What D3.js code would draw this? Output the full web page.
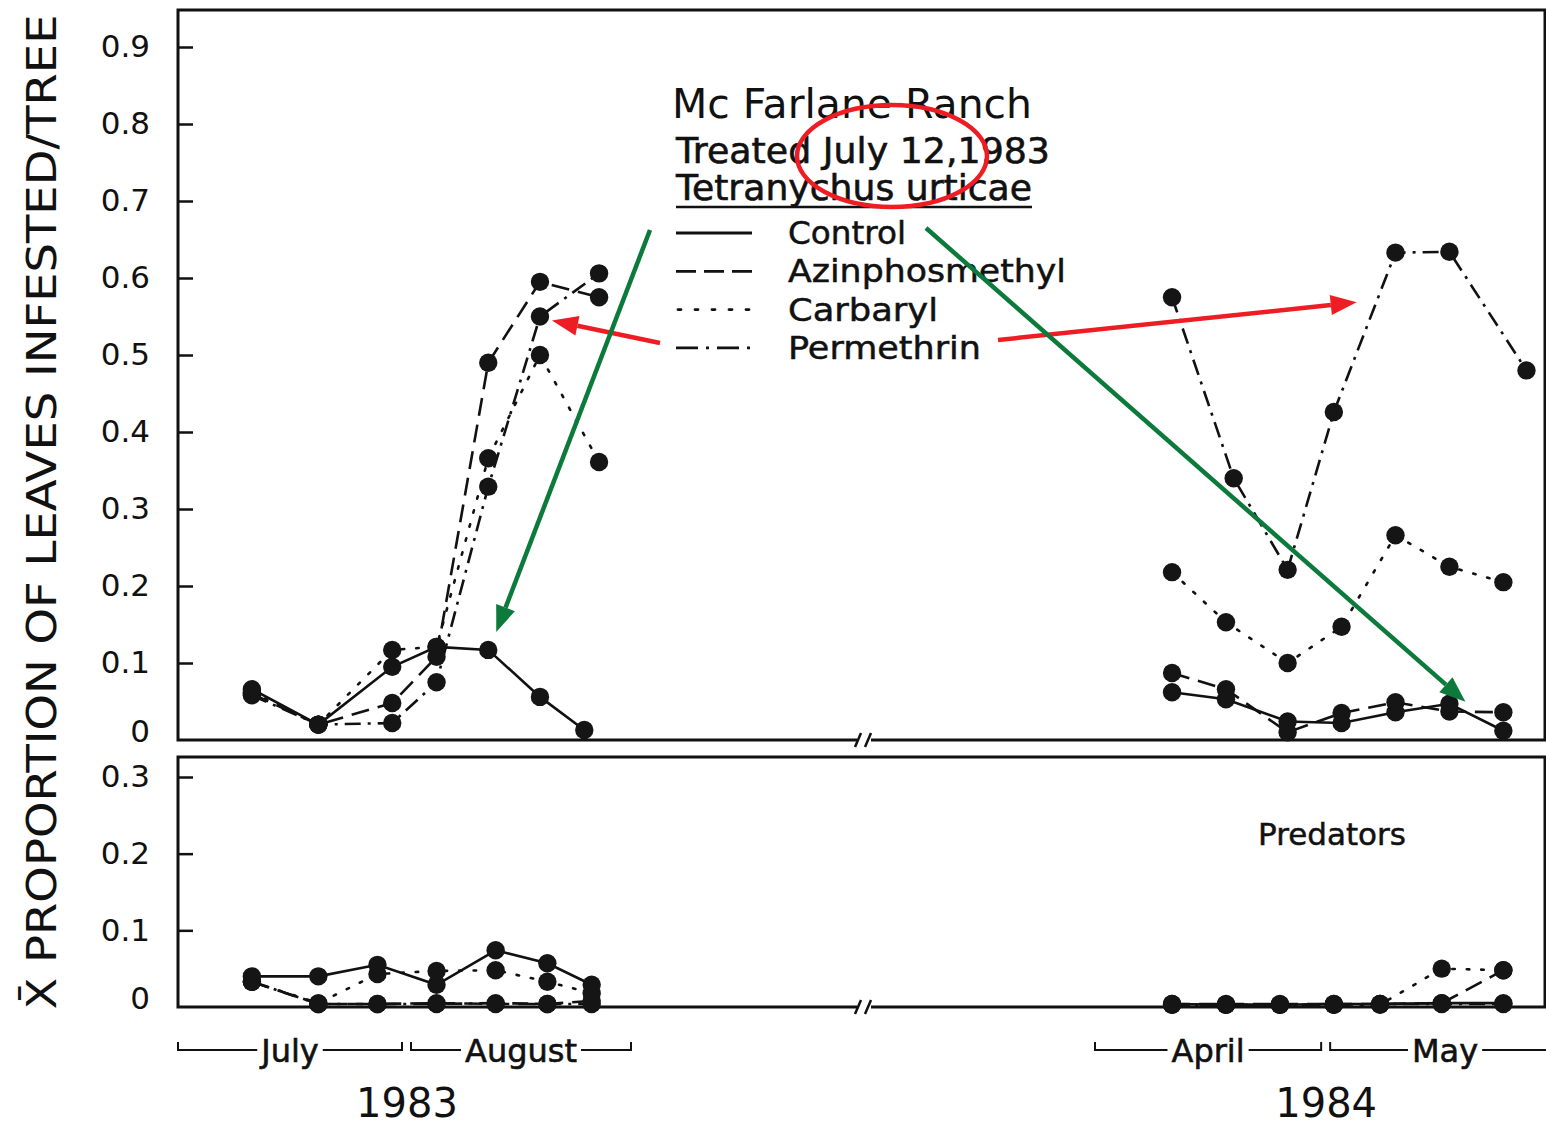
<!DOCTYPE html>
<html><head><meta charset="utf-8">
<style>
    body { margin: 0; background: #fff; font-family: "DejaVu Sans", sans-serif; }
    svg { display: block; }
</style>
</head>
<body>
<svg id="chart" width="1546" height="1130"></svg>
<script src="https://cdnjs.cloudflare.com/ajax/libs/d3/7.8.5/d3.min.js"></script>
<script>
    const parse = d3.timeParse("%Y-%m-%d");

    // sampling dates
    const miteDates83        = ["1983-07-11","1983-07-20","1983-07-30","1983-08-05","1983-08-12","1983-08-19","1983-08-27"];
    const miteControlDates83 = ["1983-07-11","1983-07-20","1983-07-30","1983-08-05","1983-08-12","1983-08-19","1983-08-25"];
    const miteDates84        = ["1984-04-11","1984-04-18","1984-04-26","1984-05-03","1984-05-10","1984-05-17","1984-05-24"];
    const mitePermDates84    = ["1984-04-11","1984-04-19","1984-04-26","1984-05-02","1984-05-10","1984-05-17","1984-05-27"];
    const predDates83        = ["1983-07-11","1983-07-20","1983-07-28","1983-08-05","1983-08-13","1983-08-20","1983-08-26"];
    const predDates84        = ["1984-04-11","1984-04-18","1984-04-25","1984-05-02","1984-05-08","1984-05-16","1984-05-24"];

    // Tetranychus urticae, proportion of leaves infested
    const miteControl83 = [0.066, 0.02, 0.095, 0.121, 0.117, 0.056, 0.013];
    const miteAzin83    = [0.060, 0.02, 0.048, 0.108, 0.490, 0.595, 0.575];
    const miteCarb83    = [0.062, 0.02, 0.117, 0.121, 0.366, 0.500, 0.361];
    const mitePerm83    = [0.058, 0.02, 0.022, 0.075, 0.329, 0.550, 0.606];
    const miteControl84 = [0.062, 0.053, 0.024, 0.022, 0.036, 0.047, 0.012];
    const miteAzin84    = [0.087, 0.066, 0.010, 0.035, 0.049, 0.037, 0.036];
    const miteCarb84    = [0.218, 0.153, 0.100, 0.147, 0.266, 0.225, 0.205];
    const mitePerm84    = [0.575, 0.340, 0.221, 0.426, 0.633, 0.634, 0.480];

    // predators
    const predControl83 = [0.040, 0.040, 0.055, 0.029, 0.074, 0.057, 0.029];
    const predAzin83    = [0.033, 0.004, 0.004, 0.005, 0.004, 0.004, 0.008];
    const predCarb83    = [0.033, 0.005, 0.043, 0.047, 0.048, 0.033, 0.018];
    const predPerm83    = [0.033, 0.004, 0.004, 0.004, 0.005, 0.004, 0.004];
    const predControl84 = [0.004, 0.003, 0.003, 0.004, 0.004, 0.005, 0.005];
    const predAzin84    = [0.004, 0.004, 0.004, 0.004, 0.004, 0.005, 0.048];
    const predCarb84    = [0.003, 0.003, 0.003, 0.003, 0.003, 0.050, 0.048];
    const predPerm84    = [0.003, 0.003, 0.003, 0.003, 0.004, 0.004, 0.004];

    const treatments = ["Control", "Azinphosmethyl", "Carbaryl", "Permethrin"];
    const topTicks = [0, 0.1, 0.2, 0.3, 0.4, 0.5, 0.6, 0.7, 0.8, 0.9];
    const bottomTicks = [0, 0.1, 0.2, 0.3];
    const months = [
        {name: "July",   start: "1983-07-01", end: "1983-08-01"},
        {name: "August", start: "1983-08-01", end: "1983-09-01"},
        {name: "April",  start: "1984-04-01", end: "1984-05-01"},
        {name: "May",    start: "1984-05-01", end: "1984-06-01"}
    ];
    const years = [{label: "1983", mid: "1983-08-01"}, {label: "1984", mid: "1984-05-01"}];

    const dashes = {Control: null, Azinphosmethyl: "18,9", Carbaryl: "2.5,12", Permethrin: "16,7,3,7"};

    let svg = d3.select("#chart");
    let left = 178, right = 1545;
    let topPanel = {top: 10, bottom: 740};
    let botPanel = {top: 757, bottom: 1007};
    let breakX = 863;

    let x = d3.scaleTime()
        .domain([parse("1983-07-01"), parse("1983-09-01"), parse("1984-04-01"), parse("1984-06-01")])
        .range([left, 636, 1095, 1565]);

    let yTop = d3.scaleLinear().domain([0, 0.9]).range([topPanel.bottom, 47]);
    let yBot = d3.scaleLinear().domain([0, 0.3]).range([botPanel.bottom, 777]);

    function fmt(d) { return d === 0 ? "0" : d.toFixed(1); }

    // frames
    function drawFrame(p, y, ticks) {
        let g = svg.append("g");
        g.append("path")
            .attr("d", `M${breakX - 6},${p.bottom} L${left},${p.bottom} L${left},${p.top} L${right},${p.top} L${right},${p.bottom} L${breakX + 8},${p.bottom}`)
            .attr("fill", "none").attr("stroke", "#111").attr("stroke-width", 3);
        [breakX - 5, breakX + 5].forEach(bx => {
            g.append("line")
                .attr("x1", bx - 3).attr("y1", p.bottom + 7)
                .attr("x2", bx + 3).attr("y2", p.bottom - 7)
                .attr("stroke", "#111").attr("stroke-width", 2.5);
        });
        // inward ticks
        svg.append("g")
            .attr("transform", `translate(${left},0)`)
            .call(d3.axisRight(y).tickValues(ticks.filter(t => t > 0)).tickSize(15).tickFormat(""))
            .call(a => a.select(".domain").remove())
            .call(a => a.selectAll("line").attr("stroke", "#111").attr("stroke-width", 2.5));
        // labels
        svg.append("g")
            .attr("transform", `translate(${left},0)`)
            .call(d3.axisLeft(y).tickValues(ticks).tickSize(0).tickPadding(28).tickFormat(fmt))
            .call(a => a.select(".domain").remove())
            .call(a => a.selectAll("text")
                .attr("font-family", "DejaVu Sans, sans-serif")
                .attr("font-size", 31)
                .attr("fill", "#111")
                .attr("dy", d => d === 0 ? "0.05em" : "0.32em"));
    }
    drawFrame(topPanel, yTop, topTicks);
    drawFrame(botPanel, yBot, bottomTicks);

    // series
    function drawSeries(y, dates, values, name) {
        let data = dates.map((d, i) => ({date: parse(d), value: values[i]}));
        let line = d3.line().x(d => x(d.date)).y(d => y(d.value));
        svg.append("path")
            .datum(data)
            .attr("d", line)
            .attr("fill", "none")
            .attr("stroke", "#111")
            .attr("stroke-width", 2.6)
            .attr("stroke-dasharray", dashes[name])
            .attr("stroke-linecap", name === "Carbaryl" ? "round" : "butt");
        svg.append("g").selectAll("circle")
            .data(data)
            .enter()
            .append("circle")
            .attr("cx", d => x(d.date))
            .attr("cy", d => y(d.value))
            .attr("r", 9.2)
            .attr("fill", "#151515");
    }

    drawSeries(yTop, miteDates83, mitePerm83, "Permethrin");
    drawSeries(yTop, miteDates83, miteCarb83, "Carbaryl");
    drawSeries(yTop, miteDates83, miteAzin83, "Azinphosmethyl");
    drawSeries(yTop, miteControlDates83, miteControl83, "Control");
    drawSeries(yTop, mitePermDates84, mitePerm84, "Permethrin");
    drawSeries(yTop, miteDates84, miteCarb84, "Carbaryl");
    drawSeries(yTop, miteDates84, miteAzin84, "Azinphosmethyl");
    drawSeries(yTop, miteDates84, miteControl84, "Control");

    drawSeries(yBot, predDates83, predPerm83, "Permethrin");
    drawSeries(yBot, predDates83, predCarb83, "Carbaryl");
    drawSeries(yBot, predDates83, predAzin83, "Azinphosmethyl");
    drawSeries(yBot, predDates83, predControl83, "Control");
    drawSeries(yBot, predDates84, predPerm84, "Permethrin");
    drawSeries(yBot, predDates84, predCarb84, "Carbaryl");
    drawSeries(yBot, predDates84, predAzin84, "Azinphosmethyl");
    drawSeries(yBot, predDates84, predControl84, "Control");

    // y title
    svg.append("text")
        .attr("transform", "translate(56,512) rotate(-90)")
        .attr("text-anchor", "middle")
        .attr("font-size", 41)
        .attr("textLength", 995)
        .attr("lengthAdjust", "spacingAndGlyphs")
        .attr("fill", "#111")
        .text("X\u0304 PROPORTION OF LEAVES INFESTED/TREE");

    // month brackets
    let monthY = 1050;
    months.forEach(m => {
        let x0 = x(parse(m.start)) + (m.name === "August" || m.name === "May" ? 4 : 0);
        let x1 = x(parse(m.end)) - 5;
        let cx = (x0 + x1) / 2;
        let t = svg.append("text")
            .attr("x", cx).attr("y", monthY + 12)
            .attr("text-anchor", "middle")
            .attr("font-size", 32)
            .attr("fill", "#111")
            .attr("stroke", "#111").attr("stroke-width", 0.6)
            .text(m.name);
        let w = t.node().getComputedTextLength();
        svg.append("path")
            .attr("d", `M${x0},${monthY - 8} L${x0},${monthY} L${cx - w / 2 - 4},${monthY}`)
            .attr("fill", "none").attr("stroke", "#111").attr("stroke-width", 2);
        svg.append("path")
            .attr("d", `M${cx + w / 2 + 4},${monthY} L${x1},${monthY} L${x1},${monthY - 8}`)
            .attr("fill", "none").attr("stroke", "#111").attr("stroke-width", 2);
    });

    years.forEach(yr => {
        svg.append("text")
            .attr("x", x(parse(yr.mid))).attr("y", 1117)
            .attr("text-anchor", "middle")
            .attr("font-size", 40)
            .attr("fill", "#111")
            .text(yr.label);
    });

    svg.append("text")
        .attr("x", 1332).attr("y", 845)
        .attr("text-anchor", "middle")
        .attr("font-size", 31)
        .attr("fill", "#111")
        .attr("stroke", "#111").attr("stroke-width", 0.5)
        .text("Predators");

    // legend
    let lg = svg.append("g");
    lg.append("text").attr("x", 672).attr("y", 118).attr("font-size", 41)
        .attr("textLength", 360).attr("lengthAdjust", "spacingAndGlyphs").attr("fill", "#111")
        .text("Mc Farlane Ranch");
    lg.append("text").attr("x", 676).attr("y", 163).attr("font-size", 35)
        .attr("textLength", 374).attr("lengthAdjust", "spacingAndGlyphs").attr("fill", "#111")
        .attr("stroke", "#111").attr("stroke-width", 0.6)
        .text("Treated July 12,1983");
    lg.append("text").attr("x", 676).attr("y", 200).attr("font-size", 35)
        .attr("textLength", 356).attr("lengthAdjust", "spacingAndGlyphs").attr("fill", "#111")
        .attr("stroke", "#111").attr("stroke-width", 0.6)
        .text("Tetranychus urticae");
    lg.append("line").attr("x1", 676).attr("x2", 1032).attr("y1", 207).attr("y2", 207)
        .attr("stroke", "#111").attr("stroke-width", 2.5);

    let legendDash = {Control: null, Azinphosmethyl: "20,8", Carbaryl: "3,14", Permethrin: "22,8,3,8"};
    let legendWidths = {Control: 118, Azinphosmethyl: 278, Carbaryl: 150, Permethrin: 193};
    treatments.forEach((t, i) => {
        let yy = 233 + i * 38.3;
        lg.append("line")
            .attr("x1", t === "Carbaryl" ? 678 : 676).attr("x2", 752)
            .attr("y1", yy).attr("y2", yy)
            .attr("stroke", "#111").attr("stroke-width", 2.8)
            .attr("stroke-linecap", t === "Carbaryl" ? "round" : "butt")
            .attr("stroke-dasharray", legendDash[t]);
        lg.append("text")
            .attr("x", 788).attr("y", yy + 11)
            .attr("font-size", 32)
            .attr("textLength", legendWidths[t]).attr("lengthAdjust", "spacingAndGlyphs")
            .attr("fill", "#111")
            .attr("stroke", "#111").attr("stroke-width", 0.5)
            .text(t);
    });

    // red / green annotations laid over the figure
    let red = "#ee1d23", green = "#0b7a3b";
    function arrow(x1, y1, x2, y2, color) {
        let ang = Math.atan2(y2 - y1, x2 - x1);
        let len = 26, half = 10;
        let bx = x2 - len * Math.cos(ang), by = y2 - len * Math.sin(ang);
        svg.append("line")
            .attr("x1", x1).attr("y1", y1).attr("x2", bx).attr("y2", by)
            .attr("stroke", color).attr("stroke-width", 4.5);
        svg.append("polygon")
            .attr("points", [
                [x2, y2],
                [bx + half * Math.sin(ang), by - half * Math.cos(ang)],
                [bx - half * Math.sin(ang), by + half * Math.cos(ang)]
            ].map(p => p.join(",")).join(" "))
            .attr("fill", color);
    }
    let permPeak83 = [x(parse(miteDates83[5])), yTop(mitePerm83[5])];
    let ctrlAug12 = [x(parse(miteControlDates83[4])), yTop(miteControl83[4])];
    let ctrlMay17 = [x(parse(miteDates84[5])), yTop(miteControl84[5])];
    let permRise84 = [(x(parse(mitePermDates84[3])) + x(parse(mitePermDates84[4]))) / 2 - 8,
                      (yTop(mitePerm84[3]) + yTop(mitePerm84[4])) / 2 - 30];

    svg.append("ellipse")
        .attr("cx", 892).attr("cy", 156).attr("rx", 95).attr("ry", 51)
        .attr("fill", "none").attr("stroke", red).attr("stroke-width", 4.5);
    arrow(660, 343, permPeak83[0] + 12, permPeak83[1] + 4, red);
    arrow(998, 340, permRise84[0], permRise84[1], red);
    arrow(650, 230, ctrlAug12[0] + 8, ctrlAug12[1] - 18, green);
    arrow(926, 228, ctrlMay17[0] + 16, ctrlMay17[1] - 2, green);
</script>
</body></html>
